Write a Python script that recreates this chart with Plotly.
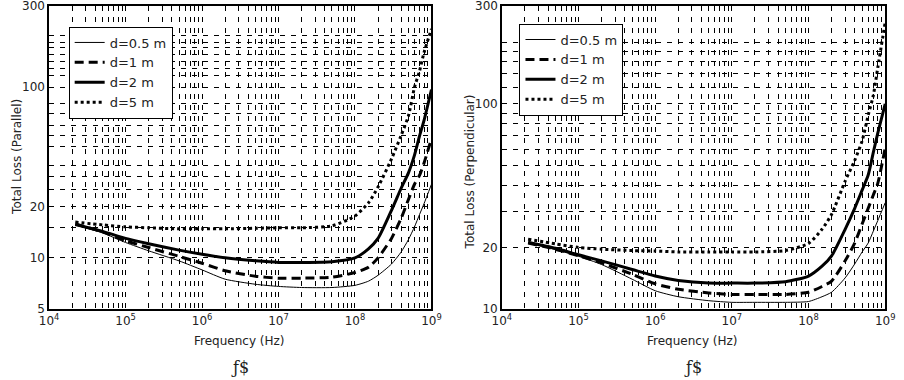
import plotly.graph_objects as go

freq = [2.2e4, 5e4, 1e5, 2e5, 5e5, 1e6, 2e6, 5e6, 1e7, 2e7, 5e7, 1e8, 1.5e8, 2e8,
        3e8, 4e8, 5e8, 6e8, 7e8, 8e8, 1e9]

labels = ["d=0.5 m", "d=1 m", "d=2 m", "d=5 m"]

par_d05 = [15.6, 14.0, 12.3, 11.0, 9.6, 8.5, 7.5, 7.0, 6.8, 6.7, 6.7, 6.9, 7.3, 7.9, 9.2, 10.8, 12.8, 15.2, 18.0, 20.8, 27]
par_d1 = [15.8, 14.2, 12.6, 11.5, 10.2, 9.3, 8.4, 7.8, 7.6, 7.6, 7.7, 8.2, 8.8, 10.0, 13.0, 17.0, 22.0, 27.0, 30.5, 36, 50]
par_d2 = [15.7, 14.3, 13.0, 12.1, 11.1, 10.5, 10.0, 9.6, 9.4, 9.4, 9.5, 10.0, 11.3, 13.0, 19.0, 25.5, 31.5, 40.0, 52, 64, 97]
par_d5 = [16.2, 15.6, 15.2, 15.0, 14.8, 14.8, 14.8, 14.9, 15.0, 15.0, 15.4, 17.6, 21.0, 26, 38, 52, 68, 100, 125, 160, 220]

per_d05 = [21.0, 19.5, 18.1, 16.5, 14.0, 12.3, 11.5, 11.0, 10.8, 10.8, 10.8, 10.9, 11.5, 12.1, 14.2, 16.6, 19.0, 21, 24, 27, 33]
per_d1 = [21.0, 19.6, 18.2, 16.8, 14.8, 13.3, 12.5, 12.0, 11.8, 11.8, 11.8, 12.1, 12.9, 13.7, 17.2, 21.0, 26, 31, 36, 41, 61]
per_d2 = [21.2, 19.8, 18.4, 17.2, 15.6, 14.5, 13.8, 13.4, 13.4, 13.4, 13.6, 14.5, 16.2, 18.2, 24.5, 31, 38, 45, 58, 72, 100]
per_d5 = [21.9, 20.8, 20.0, 19.6, 19.3, 19.2, 19.0, 19.0, 19.0, 19.0, 19.3, 20.9, 24.5, 29, 42, 53, 66, 88, 110, 150, 250]

x_tickvals = [m * 10 ** e for e in range(4, 9) for m in range(1, 10)] + [1e9]
x_ticktext = [("10<sup>%d</sup>" % e if m == 1 else "") for e in range(4, 9) for m in range(1, 10)] + ["10<sup>9</sup>"]

y_top_label = "300"
par_grid = [5, 10, 15, 20, 25, 30, 35, 45, 52, 60, 70, 80, 100, 117, 128, 141, 155, 170, 184, 200]
par_labels = {5: "5", 10: "10", 20: "20", 100: "100"}
per_grid = [10, 20, 30, 40, 50, 60, 70, 80, 90, 100, 120, 140, 160, 180, 200]
per_labels = {10: "10", 20: "20", 100: "100"}

styles = [dict(width=1, dash="solid"), dict(width=3, dash="9px,5px"),
          dict(width=3, dash="solid"), dict(width=3, dash="3px,3px")]

fig = go.Figure()
for ser, lab, st in zip([par_d05, par_d1, par_d2, par_d5], labels, styles):
    fig.add_trace(go.Scatter(x=freq, y=ser, mode="lines", name=lab, xaxis="x", yaxis="y",
                             line=dict(color="black", shape="spline", smoothing=0.6, **st),
                             legend="legend"))
for ser, lab, st in zip([per_d05, per_d1, per_d2, per_d5], labels, styles):
    fig.add_trace(go.Scatter(x=freq, y=ser, mode="lines", name=lab, xaxis="x2", yaxis="y2",
                             line=dict(color="black", shape="spline", smoothing=0.6, **st),
                             legend="legend2"))

W, H = 904, 380
font = dict(family="DejaVu Sans", size=12, color="#222")
gridstyle = dict(showgrid=True, gridcolor="black", gridwidth=1, griddash="5px,6px",
                 showline=True, linecolor="black", linewidth=1.5, mirror=True,
                 ticks="", zeroline=False, tickfont=font)

def xaxis(dom, anchor):
    return dict(type="log", domain=dom, anchor=anchor, range=[4, 9],
                tickmode="array", tickvals=x_tickvals, ticktext=x_ticktext, **gridstyle)

def yaxis(grid, labs, lo, anchor):
    return dict(type="log", domain=[1 - 315 / H, 1 - 6 / H], anchor=anchor,
                range=[lo, 2.4771213], tickmode="array", tickvals=grid,
                ticktext=[labs.get(v, "") for v in grid], **gridstyle)

legstyle = dict(bgcolor="white", bordercolor="black", borderwidth=1,
                font=dict(family="DejaVu Sans", size=13, color="#222"),
                xanchor="left", yanchor="top", tracegroupgap=0, itemwidth=30)

tfont = dict(family="DejaVu Sans", size=12, color="#222")

def ann(text, x, y, **kw):
    kw.setdefault("xanchor", "center")
    return dict(text=text, x=x / W, y=1 - y / H, xref="paper", yref="paper",
                yanchor="middle", showarrow=False, **kw)

fig.update_layout(
    width=W, height=H, margin=dict(l=0, r=0, t=0, b=0),
    paper_bgcolor="white", plot_bgcolor="white", showlegend=True,
    xaxis=xaxis([40 / W, 431 / W], "y"),
    yaxis=yaxis(par_grid, par_labels, 0.69897, "x"),
    xaxis2=xaxis([503 / W, 895 / W], "y2"),
    yaxis2=yaxis(per_grid, per_labels, 1.0, "x2"),
    legend=dict(x=60 / W, y=1 - 27 / H, **legstyle),
    legend2=dict(x=521 / W, y=1 - 24 / H, **legstyle),
    annotations=[
        dict(text=y_top_label, x=0, y=1, xref="x domain", yref="y domain", xanchor="right",
             yanchor="middle", xshift=-2, showarrow=False, font=font),
        dict(text=y_top_label, x=0, y=1, xref="x2 domain", yref="y2 domain", xanchor="right",
             yanchor="middle", xshift=-2, showarrow=False, font=font),
        ann("Frequency (Hz)", 235, 347, font=tfont),
        ann("Frequency (Hz)", 698, 347, font=tfont),
        ann("Total Loss (Parallel)", 7, 160, textangle=-90, font=tfont),
        ann("Total Loss (Perpendicular)", 470, 175, textangle=-90, font=tfont),
        ann("ƒ$", 235, 374, font=dict(family="DejaVu Serif", size=16, color="#222")),
        ann("ƒ$", 698, 374, font=dict(family="DejaVu Serif", size=16, color="#222")),
    ],
)

fig.write_html("out.html")
